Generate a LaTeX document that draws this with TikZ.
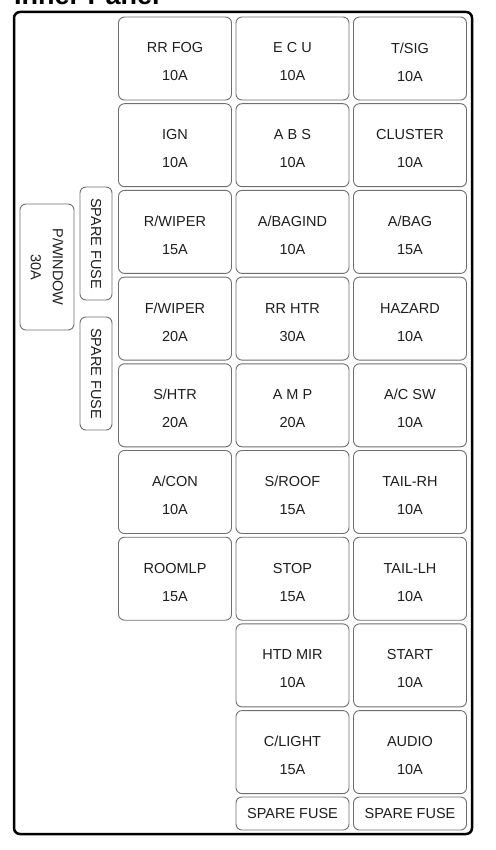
\documentclass[tikz,border=0pt]{standalone}
\usepackage{fontspec}
\setmainfont{Liberation Sans}
\definecolor{fuseline}{HTML}{6E6E6E}
\definecolor{fusetxt}{HTML}{1E1E1E}

\begin{document}
\begin{tikzpicture}[x=1pt, y=-1pt,
    fuse/.style={draw=fuseline, line width=0.9pt, rounded corners=6pt,
      minimum width=113pt, minimum height=83pt, inner sep=0pt},
    sparebox/.style={fuse, minimum height=33pt, text=fusetxt,
      font=\fontsize{14.5}{17}\selectfont},
    fusetext/.style={text=fusetxt, align=center, inner sep=0pt,
      font=\fontsize{14.5}{28}\selectfont}]
  \useasboundingbox (0,0) rectangle (495,850);

  % Title (cut off at the top)
  \node[anchor=base west, inner sep=0pt,
    font=\bfseries\fontsize{27}{30}\selectfont] (title) at (14,5) {Inner Panel};

  % Frame
  \draw[line width=2.5pt, rounded corners=6pt] (14,12) rectangle (472,834);

  % Fuse grid
  \foreach \c/\r/\lbl in {
      1/1/{RR FOG\\10A}, 2/1/{E C U\\10A}, 3/1/{T/SIG\\10A},
      1/2/{IGN\\10A}, 2/2/{A B S\\10A}, 3/2/{CLUSTER\\10A},
      1/3/{R/WIPER\\15A}, 2/3/{A/BAGIND\\10A}, 3/3/{A/BAG\\15A},
      1/4/{F/WIPER\\20A}, 2/4/{RR HTR\\30A}, 3/4/{HAZARD\\10A},
      1/5/{S/HTR\\20A}, 2/5/{A M P\\20A}, 3/5/{A/C SW\\10A},
      1/6/{A/CON\\10A}, 2/6/{S/ROOF\\15A}, 3/6/{TAIL-RH\\10A},
      1/7/{ROOMLP\\15A}, 2/7/{STOP\\15A}, 3/7/{TAIL-LH\\10A},
      2/8/{HTD MIR\\10A}, 3/8/{START\\10A},
      2/9/{C/LIGHT\\15A}, 3/9/{AUDIO\\10A}} {
    \node[fuse] (f\c\r) at ({175+117.5*(\c-1)}, {58.5+86.7*(\r-1)}) {};
    \node[fusetext] (t\c\r) at ([yshift=-3.5pt]f\c\r.center) {\lbl};
  }

  % Spare fuses, bottom row
  \node[sparebox] (sp21) at (292.5,813.5) {SPARE FUSE};
  \node[sparebox] (sp31) at (410,813.5) {SPARE FUSE};

  % Left side
  \node[fuse, minimum width=54pt, minimum height=126pt] (pw) at (47,267) {};
  \node[fusetext, rotate=-90, font=\fontsize{14.5}{22}\selectfont] (pwt)
    at (pw.center) {P/WINDOW\\30A};
  \node[fuse, minimum width=32pt, minimum height=113pt] (sp1) at (96,243.5) {};
  \node[fusetext, rotate=-90] (sp1t) at (sp1.center) {SPARE FUSE};
  \node[fuse, minimum width=32pt, minimum height=113pt] (sp2) at (96,373.5) {};
  \node[fusetext, rotate=-90] (sp2t) at (sp2.center) {SPARE FUSE};
\end{tikzpicture}
\end{document}
